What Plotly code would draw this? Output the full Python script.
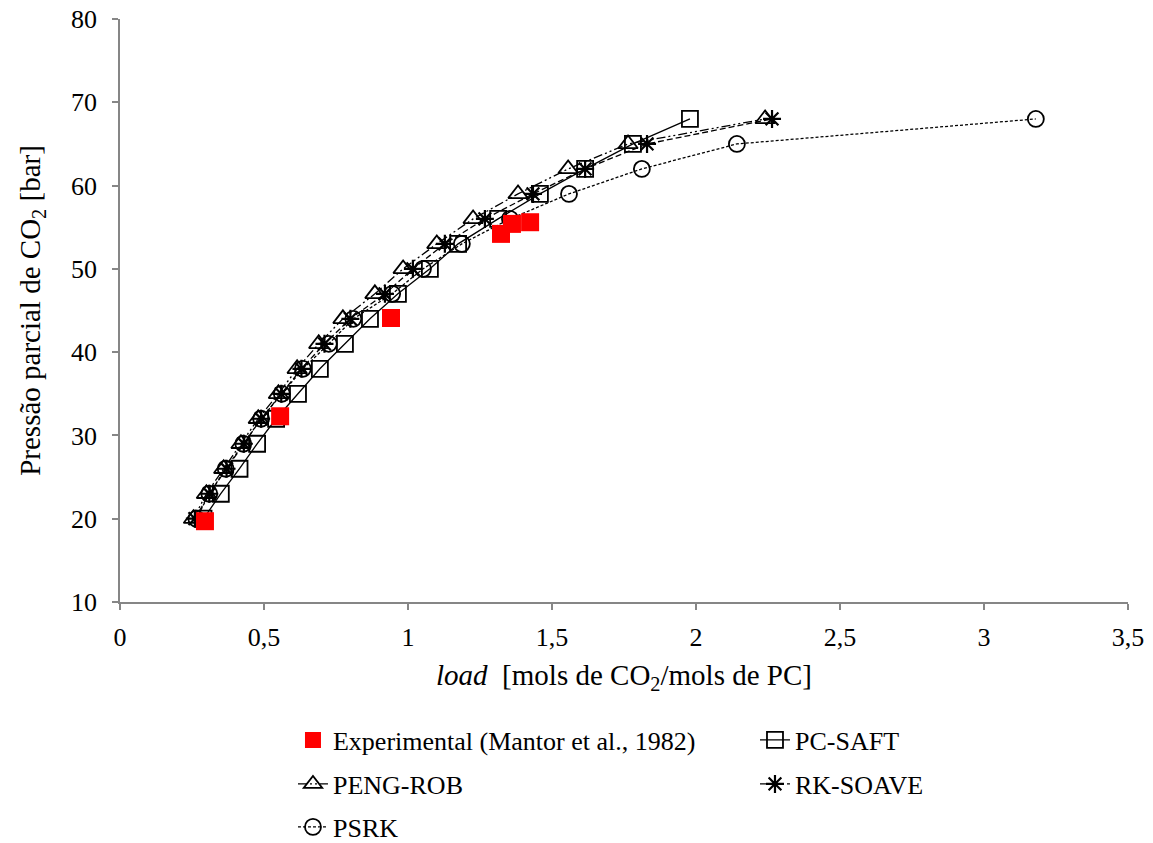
import plotly.graph_objects as go

# ---- data ----
pressure_model = [20, 23, 26, 29, 32, 35, 38, 41, 44, 47, 50, 53, 56, 59, 62, 65, 68]

pc_saft_load = [0.29, 0.35, 0.415, 0.476, 0.542, 0.618, 0.694, 0.781, 0.868, 0.965,
                1.076, 1.174, 1.313, 1.458, 1.615, 1.781, 1.979]
peng_rob_load = [0.255, 0.30, 0.36, 0.42, 0.48, 0.55, 0.615, 0.69, 0.774, 0.885,
                 0.983, 1.10, 1.226, 1.382, 1.556, 1.764, 2.24]
rk_soave_load = [0.26, 0.31, 0.37, 0.43, 0.49, 0.56, 0.63, 0.71, 0.80, 0.92,
                 1.017, 1.128, 1.267, 1.434, 1.615, 1.83, 2.264]
psrk_load = [0.265, 0.31, 0.367, 0.428, 0.49, 0.562, 0.635, 0.725, 0.81, 0.945,
             1.052, 1.187, 1.354, 1.559, 1.812, 2.142, 3.18]

exp_load = [0.295, 0.556, 0.941, 1.323, 1.361, 1.424]
exp_pressure = [19.7, 32.3, 44.1, 54.2, 55.4, 55.6]

x_tickvals = [0, 0.5, 1, 1.5, 2, 2.5, 3, 3.5]
x_ticktext = ["0", "0,5", "1", "1,5", "2", "2,5", "3", "3,5"]
y_tickvals = [10, 20, 30, 40, 50, 60, 70, 80]

FONT = "Liberation Serif"
BLACK = "black"

fig = go.Figure()

fig.add_trace(go.Scatter(
    x=pc_saft_load, y=pressure_model, name="PC-SAFT", mode="lines+markers",
    line=dict(color=BLACK, width=1.3, dash="solid"),
    marker=dict(symbol="square-open", size=16, color=BLACK, line=dict(width=1.8)),
    legend="legend2"))

fig.add_trace(go.Scatter(
    x=peng_rob_load, y=pressure_model, name="PENG-ROB", mode="lines+markers",
    line=dict(color=BLACK, width=1.3, dash="9px,3px,2px,3px,2px,3px"),
    marker=dict(symbol="triangle-up-open", size=17, color=BLACK, line=dict(width=1.8)),
    legend="legend3"))

fig.add_trace(go.Scatter(
    x=rk_soave_load, y=pressure_model, name="RK-SOAVE", mode="lines+markers",
    line=dict(color=BLACK, width=1.3, dash="6px,3px"),
    marker=dict(symbol="asterisk-open", size=15, color=BLACK, line=dict(width=2.2)),
    legend="legend4"))

fig.add_trace(go.Scatter(
    x=psrk_load, y=pressure_model, name="PSRK", mode="lines+markers",
    line=dict(color=BLACK, width=1.3, dash="3px,2px"),
    marker=dict(symbol="circle-open", size=16, color=BLACK, line=dict(width=1.8)),
    legend="legend5"))

fig.add_trace(go.Scatter(
    x=exp_load, y=exp_pressure, name="Experimental (Mantor et al., 1982)", mode="markers",
    marker=dict(symbol="square", size=18, color="#FF0000"),
    legend="legend"))


def leg(x, y):
    return dict(x=x, y=y, xref="container", yref="container",
                orientation="h", xanchor="left", yanchor="middle",
                font=dict(family=FONT, size=26, color=BLACK),
                bgcolor="rgba(0,0,0,0)", borderwidth=0)


col1, col2 = 0.2541, 0.6548
row1, row2, row3 = 0.1222, 0.0700, 0.0190

fig.update_layout(
    width=1153, height=843,
    paper_bgcolor="white", plot_bgcolor="white",
    margin=dict(l=120, r=25, t=19, b=241),
    font=dict(family=FONT, size=26, color=BLACK),
    showlegend=True,
    legend=leg(col1, row1),
    legend2=leg(col2, row1),
    legend3=leg(col1, row2),
    legend4=leg(col2, row2),
    legend5=leg(col1, row3),
    xaxis=dict(
        range=[0, 3.5], tickvals=x_tickvals, ticktext=x_ticktext, automargin=False,
        showgrid=False, zeroline=False, showline=True, linecolor="#868686", linewidth=1.5,
        ticks="outside", ticklen=6, tickcolor="#868686", tickwidth=1.5,
        tickfont=dict(family=FONT, size=26, color=BLACK), ticklabelstandoff=5,
        title=dict(text="<i>load</i>  [mols de CO<sub>2</sub>/mols de PC]",
                   font=dict(family=FONT, size=29, color=BLACK), standoff=14),
    ),
    yaxis=dict(
        range=[10, 80], tickvals=y_tickvals, automargin=False,
        showgrid=False, zeroline=False, showline=True, linecolor="#868686", linewidth=1.5,
        ticks="outside", ticklen=6, tickcolor="#868686", tickwidth=1.5,
        tickfont=dict(family=FONT, size=26, color=BLACK), ticklabelstandoff=10,
        title=dict(text="Pressão parcial de CO<sub>2</sub> [bar]",
                   font=dict(family=FONT, size=29, color=BLACK), standoff=22),
    ),
)

fig.write_html("out.html")
